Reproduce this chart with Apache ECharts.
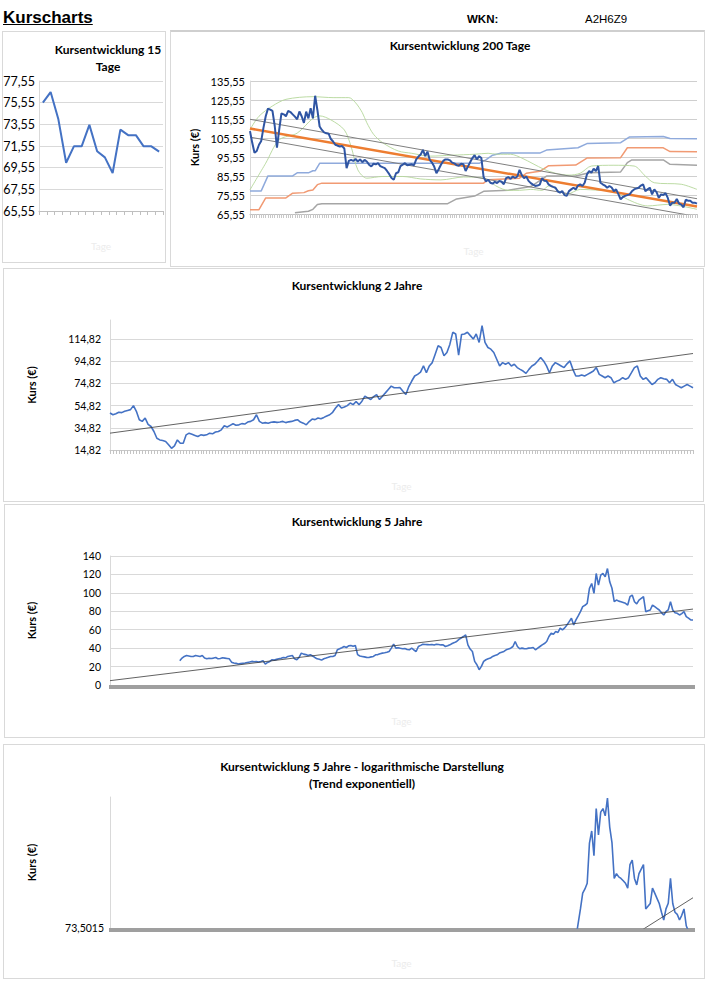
<!DOCTYPE html>
<html>
<head>
<meta charset="utf-8">
<script src="https://cdn.jsdelivr.net/npm/echarts@6/dist/echarts.min.js"></script>
<style>
  html, body { margin: 0; padding: 0; background: #fff; }
  body { width: 706px; height: 998px; position: relative; overflow: hidden; font-family: "Liberation Sans", Arial, sans-serif; }
  .box { position: absolute; border: 1px solid #d9d9d9; box-sizing: border-box; }
  .hdr { position: absolute; color: #000; white-space: nowrap; }
  #chart { position: absolute; left: 0; top: 0; width: 706px; height: 998px; }
</style>
</head>
<body>
<div class="box" style="left:2px;top:31px;width:164px;height:232px"></div>
<div class="box" style="left:170px;top:30px;width:535px;height:237px;border-top:2px solid #cfcfcf"></div>
<div class="box" style="left:3px;top:268px;width:701px;height:234px"></div>
<div class="box" style="left:4px;top:504px;width:701px;height:234px"></div>
<div class="box" style="left:3px;top:744px;width:702px;height:235px"></div>
<div class="hdr" style="left:3px;top:8px;font-size:17px;font-weight:bold;text-decoration:underline">Kurscharts</div>
<div class="hdr" style="left:467px;top:13px;font-size:11.5px;font-weight:bold">WKN:</div>
<div class="hdr" style="left:585px;top:13px;font-size:11.5px">A2H6Z9</div>
<div id="chart"></div>
<script>
// ---------- data ----------
const days15 = [75.55, 76.53, 74.01, 70.0, 71.52, 71.52, 73.5, 71.06, 70.5, 69.06, 73.06, 72.55, 72.55, 71.52, 71.52, 71.03];
const ticks15 = [65.55, 67.55, 69.55, 71.55, 73.55, 75.55, 77.55];

const price200 = [
  109.2, 103, 97.8, 98.7, 102, 104, 111, 117, 121, 120.5,
  119.8, 112, 100.5, 110, 118.5, 118, 117, 119.8, 119.2, 118,
  116.8, 115.4, 119.5, 117, 113.5, 119.4, 115.9, 121.2, 115.9, 127.8,
  120.3, 111.6, 109.8, 108.5, 108, 107.8, 105, 103.7, 102, 101.5,
  101.1, 101.3, 100, 89.7, 93.5, 94, 93.5, 94.5, 93.2, 94.3,
  92.8, 94, 93.2, 91.5, 90.6, 92, 91.7, 92.3, 90.8, 90.2,
  89.7, 88.2, 86.5, 84.5, 83.6, 87, 87.5, 90.8, 91.5, 92.3,
  91.2, 91.5, 91.7, 91.2, 94.3, 95.8, 96.9, 99.3, 96, 98.4,
  94.1, 92.6, 90.5, 87, 89.1, 91.5, 93.5, 94.3, 94.3, 93.8,
  92.6, 92.2, 91.2, 91, 92, 91.7, 88.2, 90.5, 92.8, 95,
  96.5, 94.3, 96, 95, 85, 82.7, 83.6, 82, 81.5, 82.5,
  81.8, 83, 82.5, 81.2, 84.4, 85, 84, 85.3, 84.5, 85.3,
  88.8, 86, 84.4, 85.3, 83, 81.8, 81, 80.3, 80.5, 81,
  84.4, 83, 82.9, 81, 80.3, 79.8, 79.4, 77.5, 76.8, 77.6,
  75.5, 75.1, 77.6, 78.5, 79.4, 78.5, 80.5, 81.2, 80.3, 82,
  86.4, 88.2, 87.3, 89.4, 88.2, 90.8, 82, 81.2, 80.5, 79.4,
  80.3, 79.5, 77.6, 78.5, 76, 73.3, 74.5, 75.1, 75.5, 75.9,
  77.5, 78.5, 79, 79.4, 80.5, 81.2, 77.6, 78.5, 79.4, 75.9,
  78.5, 77, 74.1, 75.9, 75.55, 76.53, 74.01, 70.0, 71.52, 71.52,
  73.5, 71.06, 70.5, 69.06, 73.06, 72.55, 72.55, 71.52, 71.52, 71.03
];
const stepBlue200 = [[0,77.7],[5,77.7],[8,85.6],[19,85.6],[21,87.2],[26,87.2],[28,88.3],[29,88.3],[31,92.2],[102,92.2],[105,94],[108,96.5],[112,97.6],[129,97.6],[132,99.2],[146,100.4],[150,102.6],[165,103.1],[169,106.1],[184,106.3],[187,105.3],[199,105.2]];
const stepSalmon200 = [[0,67.8],[4,67.8],[7,74],[16,74],[19,76.5],[24,76.8],[26,77.8],[28,78.2],[30,81],[32,81.8],[104,81.8],[106,83.6],[120,84.4],[123,87],[129,88],[133,91],[145,91.3],[150,95],[165,95.2],[168,100.4],[184,100.4],[187,98.4],[199,98.3]];
const stepGrey200 = [[20,66.2],[26,67],[28,68],[30,70.6],[32,71],[88,71],[92,73.5],[100,75],[104,77.5],[115,78],[125,80],[132,85.5],[145,85.5],[151,87.3],[165,87.7],[168,92.6],[170,94],[184,94],[187,91.7],[199,91.2]];
const bandUpper200 = [[0,110],[4,117],[10,122.4],[16,125.9],[28,127.3],[37,126.8],[44,126.8],[47,124.1],[50,118.9],[52,113.6],[55,107.5],[59,103.1],[66,98.7],[72,97.5],[80,96],[90,96.5],[100,97],[106,97.5],[110,97],[116,97],[121,95],[126,92],[131,89],[136,87],[142,86],[147,87],[152,90.8],[162,91.2],[171,90.8],[176,85.5],[180,82],[192,81.2],[199,78.5]];
const bandLower200 = [[0,78.3],[7,92.3],[13,104.6],[21,108.1],[28,115.9],[31,117.2],[36,115.1],[42,109.8],[45,101.1],[48,88.8],[52,84.4],[59,85.3],[68,85.3],[76,84],[85,83.5],[95,85],[104,84.5],[110,80],[115,78],[120,78],[125,78.5],[130,78],[133,80.3],[141,75.9],[147,78.5],[156,78],[162,77.6],[168,73.3],[177,69.8],[186,70.6],[199,68]];
const trendOrange200 = [[0,110.5],[199,69.5]];
const channelUpper200 = [[0,115.4],[199,73.6]];
const channelLower200 = [[0,106],[199,64.2]];
const ticks200 = [65.55, 75.55, 85.55, 95.55, 105.55, 115.55, 125.55, 135.55];

const price2y = [
  48.2, 46.6, 47.5, 48.8, 48.5, 49.7, 50.5, 51.2, 54.8, 49.7,
  42.1, 40.6, 43.6, 38, 36, 31.5, 25.4, 23.9, 23.3, 22.5,
  19.5, 16.3, 18.5, 23.9, 20.9, 20.9, 28.5, 30, 29, 28,
  27, 28.5, 28, 28.5, 30, 29.4, 31, 31.5, 33, 36.6,
  35.5, 37, 38.5, 37.2, 37.5, 38.6, 38.2, 40, 40.6, 42.1,
  46.6, 40.6, 39, 39.5, 39, 39.8, 40.2, 39.7, 40.1, 40.6,
  39.5, 40.2, 40.6, 41.5, 42.1, 40, 39, 37.5, 40.5, 42.7,
  42.2, 43.6, 43, 44.2, 45.5, 46.6, 48.8, 52.7, 55.7, 52.7,
  53.5, 54.8, 57.2, 55.7, 58.5, 55.7, 58.8, 63.3, 61.8, 60.3,
  63, 64.8, 60.3, 63.3, 66.3, 69.4, 72.4, 70.9, 70.9, 71,
  67.8, 64.8, 72, 77, 81.5, 83, 85, 90.6, 84.5, 90.6,
  93.6, 101.2, 108.8, 107.2, 99.7, 102.7, 110, 120.9, 119.4, 100.3,
  119, 119.4, 120.9, 117.9, 114.8, 119.4, 111.8, 127, 111.8, 107.2,
  105.7, 102.7, 96.6, 90.6, 93.6, 92.1, 93.6, 90.6, 92.1, 89.1,
  87.5, 86, 83.9, 87.5, 90.6, 92.1, 95.1, 98.2, 95.1, 90.6,
  84.5, 90.6, 93.6, 92.1, 90.6, 89.1, 92.5, 95.1, 87.5, 81.5,
  81.5, 82.5, 81.5, 83, 84.5, 86, 89.1, 83, 81.5, 80,
  81.5, 80, 75.4, 76.9, 78, 80, 78.5, 80, 84.5, 89.1,
  90.6, 81.5, 78.5, 80, 76.9, 73.9, 75.4, 78.5, 80, 79,
  78.5, 75.4, 78.5, 73.9, 72.4, 70.9, 72.4, 73.9, 72.4, 70.9
];
const trend2y = [[0,30],[199,101.8]];
const ticks2y = [14.82, 34.82, 54.82, 74.82, 94.82, 114.82];

const price5y = [
  null, null, null, null, null, null, null, null, null, null,
  null, null, null, null, null, null, null, null, null, null,
  null, null, null, null, null, null, null, null, null, null,
  null, 26.3, 29.2, 31, 32, 31.5, 31, 31, 32, 31.5,
  31, 32, 29.2, 28.4, 29, 28.8, 29.2, 29.9, 28.4, 28.8,
  29.5, 29.2, 28.8, 28.4, 24.8, 23.8, 23.5, 22.7, 23.2, 23.5,
  23.8, 24.5, 25, 25.6, 25.2, 25.4, 25, 25.5, 26.3, 22.7,
  24.5, 25.6, 27.4, 27, 27.8, 28.4, 29, 29.9, 29.5, 31,
  31.5, 32, 28.4, 27.4, 30, 34.6, 33.5, 33, 32, 32.8,
  31.5, 29.9, 28.4, 28, 27, 28.5, 29.2, 30, 31, 31,
  32, 38.2, 39.3, 40.5, 41.8, 40.7, 42.5, 42.9, 42, 42.9,
  33, 31.5, 31, 30.5, 30, 29.9, 30.5, 31, 32.8, 33,
  34, 34.6, 35, 35.5, 36.4, 40, 44.3, 40, 40.5, 39.8,
  39.3, 39.5, 38.5, 38.2, 40, 38, 36.4, 41.8, 43, 44.3,
  44, 43.8, 43.6, 44, 43.5, 44.3, 44, 43.5, 43.6, 41.8,
  42.5, 43.6, 45, 46, 47.2, 49.5, 51, 52.6, 54.4, 43.6,
  39, 36.4, 25.6, 22, 16.6, 20.2, 25.6, 27.4, 28.5, 29.2,
  31, 32, 32.8, 34.6, 35.5, 36.4, 38.2, 39, 40, 41.8,
  47.2, 41.8, 39.3, 40, 39.5, 39.3, 40, 40.2, 40.7, 38.2,
  40, 41.8, 43.6, 45, 47.2, 52.6, 56.2, 55.1, 58, 57,
  61.6, 59.8, 62, 65.2, 68.8, 72.4, 65.2, 70.6, 75, 79.6,
  85, 86.5, 88.6, 104.8, 110.2, 99.4, 121, 108.4, 119.2, 121,
  117.4, 126.4, 112, 105, 90.4, 92.2, 91, 90.4, 89.5, 88.6,
  86.8, 95.8, 97.6, 90.4, 88, 92.2, 94, 95.8, 79.6, 80.5,
  81.4, 86.8, 85, 83.2, 81.4, 78.5, 76, 79.6, 81.5, 90.4,
  81.4, 78.5, 77.8, 76, 77.5, 79.6, 74.2, 72.5, 70.6, 70.6
];
const trend5y = [[0,4.7],[259,82.4]];
const trendExp5y = [[0,17.9],[259,83.4]];
const ticks5y = [0, 20, 40, 60, 80, 100, 120, 140];
const logMin = 73.5015;

// ---------- helpers ----------
const cats = n => Array.from({length: n}, (_, i) => String(i + 1));
const fmt2 = v => v.toFixed(2).replace('.', ',');
const FONT = 'Lato, "Open Sans", sans-serif';
const gridLine = { show: true, lineStyle: { color: '#d9d9d9', width: 1 } };
const tageName = gap => ({ name: 'Tage', nameLocation: 'middle', nameGap: gap, nameTextStyle: { color: '#ececec', fontSize: 10, fontFamily: FONT } });
const kursName = gap => ({ name: 'Kurs (€)', nameLocation: 'middle', nameGap: gap, nameTextStyle: { color: '#000', fontSize: 11, fontWeight: 'bold', fontFamily: FONT } });
const line = (xi, data, color, width, extra) => Object.assign({
  type: 'line', xAxisIndex: xi, yAxisIndex: xi, data: data, showSymbol: false, symbol: 'none',
  lineStyle: { color: color, width: width }, itemStyle: { color: color }, silent: true, clip: true
}, extra || {});

const chart = echarts.init(document.getElementById('chart'), null, { renderer: 'svg' });
const option = {
  animation: false,
  backgroundColor: 'transparent',
  textStyle: { fontFamily: FONT },
  title: [
    { text: 'Kursentwicklung 15\nTage', left: 108, top: 41, textAlign: 'center', padding: 0, textStyle: { fontSize: 12, fontWeight: 'bold', lineHeight: 17, fontFamily: FONT, color: '#000' } },
    { text: 'Kursentwicklung 200 Tage', left: 460, top: 39, textAlign: 'center', padding: 0, textStyle: { fontSize: 12, fontWeight: 'bold', fontFamily: FONT, color: '#000' } },
    { text: 'Kursentwicklung 2 Jahre', left: 357, top: 279, textAlign: 'center', padding: 0, textStyle: { fontSize: 12, fontWeight: 'bold', fontFamily: FONT, color: '#000' } },
    { text: 'Kursentwicklung 5 Jahre', left: 357, top: 515, textAlign: 'center', padding: 0, textStyle: { fontSize: 12, fontWeight: 'bold', fontFamily: FONT, color: '#000' } },
    { text: 'Kursentwicklung 5 Jahre - logarithmische Darstellung\n(Trend exponentiell)', left: 362, top: 758, textAlign: 'center', padding: 0, textStyle: { fontSize: 12, fontWeight: 'bold', lineHeight: 17, fontFamily: FONT, color: '#000' } }
  ],
  grid: [
    { left: 39, top: 81, width: 124, height: 130 },
    { left: 250, top: 81, width: 447, height: 133 },
    { left: 110, top: 320, width: 583, height: 130 },
    { left: 110, top: 556, width: 583, height: 129 },
    { left: 110, top: 797, width: 583, height: 131 }
  ],
  xAxis: [
    Object.assign({ gridIndex: 0, type: 'category', data: cats(days15.length), boundaryGap: true,
      axisLine: { onZero: false, lineStyle: { color: '#bfbfbf' } },
      axisTick: { show: true, interval: 0, length: 4, lineStyle: { color: '#bfbfbf' } },
      axisLabel: { show: false }, splitLine: { show: false } }, tageName(30)),
    Object.assign({ gridIndex: 1, type: 'category', data: cats(price200.length), boundaryGap: false,
      axisLine: { onZero: false, lineStyle: { color: '#bfbfbf' } },
      axisTick: { show: true, interval: 0, length: 4, lineStyle: { color: '#c8c8c8' } },
      axisLabel: { show: false }, splitLine: { show: false } }, tageName(32)),
    Object.assign({ gridIndex: 2, type: 'category', data: cats(price2y.length), boundaryGap: false,
      axisLine: { onZero: false, lineStyle: { color: '#c8c8c8' } },
      axisTick: { show: true, interval: 0, length: 4, lineStyle: { color: '#c4c4c4' } },
      axisLabel: { show: false }, splitLine: { show: false } }, tageName(31)),
    Object.assign({ gridIndex: 3, type: 'category', data: cats(price5y.length), boundaryGap: false,
      axisLine: { onZero: false, lineStyle: { color: '#9f9f9f' } },
      axisTick: { show: true, interval: 0, length: 4, lineStyle: { color: '#9f9f9f', width: 3 } },
      axisLabel: { show: false }, splitLine: { show: false } }, tageName(31)),
    Object.assign({ gridIndex: 4, type: 'category', data: cats(price5y.length), boundaryGap: false,
      axisLine: { onZero: false, lineStyle: { color: '#9f9f9f' } },
      axisTick: { show: true, interval: 0, length: 4, lineStyle: { color: '#9f9f9f', width: 3 } },
      axisLabel: { show: false }, splitLine: { show: false } }, tageName(30))
  ],
  yAxis: [
    { gridIndex: 0, type: 'value', min: 65.55, max: 77.55,
      axisLine: { show: true, lineStyle: { color: '#d9d9d9' } },
      axisTick: { show: false, customValues: ticks15 },
      axisLabel: { customValues: ticks15, formatter: fmt2, color: '#000', fontSize: 12.5, margin: 4, fontFamily: FONT },
      splitLine: gridLine },
    Object.assign({ gridIndex: 1, type: 'value', min: 65.55, max: 135.55,
      axisLine: { show: true, lineStyle: { color: '#d9d9d9' } },
      axisTick: { show: false, customValues: ticks200 },
      axisLabel: { customValues: ticks200, formatter: fmt2, color: '#000', fontSize: 11, margin: 5, fontFamily: FONT },
      splitLine: { show: true, lineStyle: { color: '#cfcfcf', width: 1 } } }, kursName(48)),
    Object.assign({ gridIndex: 2, type: 'value', min: 14.82, max: 132,
      axisLine: { show: true, lineStyle: { color: '#d9d9d9' } },
      axisTick: { show: false, customValues: ticks2y },
      axisLabel: { customValues: ticks2y, formatter: fmt2, color: '#000', fontSize: 10.5, margin: 9, fontFamily: FONT },
      splitLine: gridLine }, kursName(73)),
    Object.assign({ gridIndex: 3, type: 'value', min: 0, max: 140, interval: 20,
      axisLine: { show: true, lineStyle: { color: '#d9d9d9' } },
      axisTick: { show: false, customValues: ticks5y },
      axisLabel: { customValues: ticks5y, color: '#000', fontSize: 10.5, margin: 9, fontFamily: FONT },
      splitLine: gridLine }, kursName(73)),
    Object.assign({ gridIndex: 4, type: 'log', logBase: 10, min: logMin, max: 127,
      axisLine: { show: true, lineStyle: { color: '#d9d9d9' } },
      axisTick: { show: false },
      axisLabel: { formatter: v => (v < 74 ? '73,5015' : ''), color: '#000', fontSize: 10.5, margin: 6, fontFamily: FONT, showMaxLabel: false },
      splitLine: { show: false } }, kursName(73))
  ],
  series: [
    line(0, days15, '#4472c4', 2),

    line(1, stepGrey200, '#a5a5a5', 1.5),
    line(1, stepSalmon200, '#f19a73', 1.5),
    line(1, stepBlue200, '#8faadc', 1.5),
    line(1, bandUpper200, '#b4d79a', 0.9, { smooth: 0.3 }),
    line(1, bandLower200, '#b4d79a', 0.9, { smooth: 0.3 }),
    line(1, channelUpper200, '#7f7f7f', 1),
    line(1, channelLower200, '#7f7f7f', 1),
    line(1, trendOrange200, '#ed7d31', 2.5),
    line(1, price200, '#2f55a3', 2),

    line(2, price2y, '#4472c4', 1.6),
    line(2, trend2y, '#3a3a3a', 0.8),

    line(3, price5y, '#4472c4', 1.6),
    line(3, trend5y, '#3a3a3a', 0.8),

    line(4, price5y, '#4472c4', 1.6),
    line(4, trendExp5y, '#3a3a3a', 0.8)
  ]
};
chart.setOption(option);
</script>
</body>
</html>
